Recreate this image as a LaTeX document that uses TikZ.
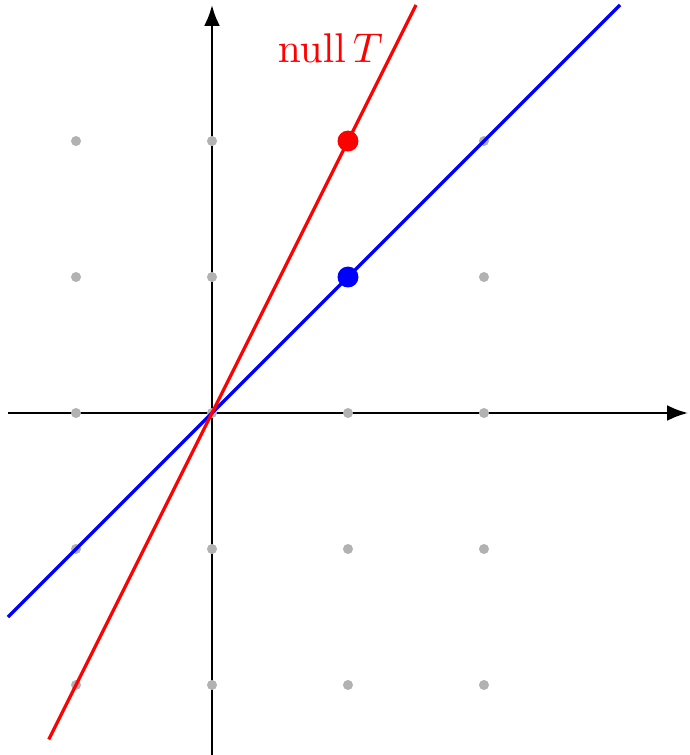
\documentclass[tikz,border=0pt]{standalone}
\usepackage{amsmath,amssymb}
\usepackage{tikz}
\usetikzlibrary{arrows.meta,calc,positioning}

\begin{document}
\begin{tikzpicture}[scale=1.15, every node/.style={font=\normalsize}]
  \useasboundingbox (-1.559,-2.515) rectangle (3.515,3.037);
  % axes
  \coordinate (xl) at (-1.5,0);
  \coordinate (xr) at (3.5,0);
  \coordinate (yb) at (0,-2.55);
  \coordinate (yt) at (0,3);
  \draw[semithick,-{Latex[length=5pt,width=3.8pt]}] (xl) -- (xr);
  \draw[semithick,-{Latex[length=5pt,width=3.8pt]}] (yb) -- (yt);
  % lattice
  \foreach \i in {-1,0,1,2} {
    \foreach \j in {-2,-1,0,1,2} {
      \fill[gray!60] (\i,\j) circle (0.037);
    }
  }
  % the two lines
  \coordinate (ba) at (-1.5,-1.5);
  \coordinate (bb) at (3,3);
  \coordinate (ra) at (-1.2,-2.4);
  \coordinate (rb) at (1.5,3);
  \draw[blue,thick] (ba) -- (bb);
  \draw[red,thick] (ra) -- (rb);
  \fill[blue] (1,1) circle (0.077);
  \fill[red] (1,2) circle (0.077);
  \node[red] (nullT) at (0.87,2.68) {$\mathrm{null}\,T$};
\end{tikzpicture}
\end{document}
